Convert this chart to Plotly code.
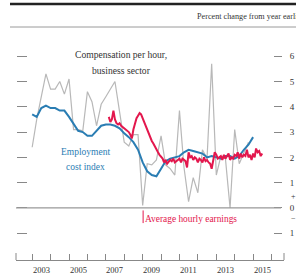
import pandas as pd
import plotly.graph_objects as go

# Compensation per hour, business sector (quarterly, from 2003 Q1)
comp_values = [2.4, 3.5, 4.4, 5.3, 4.7, 4.7, 5.0, 4.5, 5.1, 3.1, 3.1, 3.05,
               4.6, 4.2, 3.25, 4.1, 4.4, 4.7, 5.0, 3.8, 2.6, 2.45, 2.9, 2.9,
               0.1, 1.75, 1.7, 1.9, 2.85, 1.7, 1.55, 1.3, 3.85, 1.6, 0.25, 1.2,
               0.6, 2.3, 1.95, 5.7, 1.3, 2.05, 1.95, 0.0, 3.1, 1.75, 2.2, 2.6]

# Employment cost index (quarterly, from 2003 Q1)
eci_values = [3.7, 3.6, 3.95, 4.05, 3.95, 3.95, 3.85, 3.85, 3.6, 3.35, 3.05, 3.0,
              2.85, 2.85, 3.05, 3.25, 3.3, 3.3, 3.25, 3.15, 2.95, 2.8, 2.6, 2.3,
              1.8, 1.45, 1.3, 1.25, 1.55, 1.85, 1.95, 2.0, 2.05, 2.2, 2.3, 2.25,
              2.2, 2.15, 2.0, 2.05, 2.0, 1.95, 2.05, 2.05, 1.95, 2.05, 2.3, 2.5, 2.8]

# Average hourly earnings (monthly, from March 2007)
ahe_values = [3.6, 3.4, 3.5, 3.85, 3.5, 3.35, 3.3, 3.35, 3.25, 3.2, 3.15, 3.1,
              3.05, 3.0, 2.9, 2.75, 3.1, 3.35, 3.55, 3.65, 3.75, 3.7, 3.55, 3.35,
              3.2, 3.05, 2.9, 2.8, 2.65, 2.55, 2.45, 2.35, 2.2, 2.1, 2.0, 1.95,
              1.8, 1.9, 1.75, 1.85, 1.9, 1.85, 1.95, 1.8, 1.85, 1.9, 1.95, 1.8,
              1.95, 1.9, 1.85, 1.6, 2.2, 2.0, 2.05, 1.9, 2.0, 1.95, 1.8, 1.95,
              1.9, 1.8, 2.0, 1.85, 1.9, 1.8, 1.75, 1.55, 1.85, 2.2, 2.1, 1.95,
              2.0, 2.05, 1.9, 2.1, 1.95, 2.05, 2.15, 1.9, 2.0, 1.95, 2.1, 2.05,
              2.2, 1.95, 2.15, 2.0, 2.1, 2.05, 2.3, 2.0, 2.1, 1.9, 2.15, 2.0,
              2.35, 2.2, 2.25, 2.05, 2.15]

tick_years = list(range(2003, 2017))
label_years = [2003, 2005, 2007, 2009, 2011, 2013, 2015]
y_tick_vals = [-1, 0, 1, 2, 3, 4, 5, 6]
y_tick_text = ["1", "0", "1", "2", "3", "4", "5", "6"]

comp_dates = pd.date_range("2003-01-01", periods=len(comp_values), freq="QS")
eci_dates = pd.date_range("2003-01-01", periods=len(eci_values), freq="QS")
ahe_dates = pd.date_range("2007-03-01", periods=len(ahe_values), freq="MS")

SERIF = "Liberation Serif"
GRAY = "#b8b8b8"
BLUE = "#2a7db3"
RED = "#e3174d"

fig = go.Figure()
fig.add_trace(go.Scatter(x=comp_dates, y=comp_values, mode="lines",
                         line=dict(color=GRAY, width=1.2), hoverinfo="skip"))
fig.add_trace(go.Scatter(x=eci_dates, y=eci_values, mode="lines",
                         line=dict(color=BLUE, width=2), hoverinfo="skip"))
fig.add_trace(go.Scatter(x=ahe_dates, y=ahe_values, mode="lines", yaxis="y2",
                         line=dict(color=RED, width=2), hoverinfo="skip"))

YR = [-2.06, 6.84]
W, H = 296, 277
L, R, T, B = 16, 12, 35, 17
pw, ph = W - L - R, H - T - B

def px_x(p):
    return (p - L) / pw

def px_y(p):
    return (H - B - p) / ph

fig.update_layout(
    width=W, height=H,
    margin=dict(l=L, r=R, t=T, b=B, autoexpand=False),
    paper_bgcolor="white", plot_bgcolor="white",
    showlegend=False,
    font=dict(family=SERIF, color="#333333"),
    xaxis=dict(type="date", range=["2002-02-14", "2016-09-05"],
               tickvals=[f"{y}-01-01" for y in tick_years],
               ticktext=["" for _ in tick_years],
               ticks="inside", ticklen=6, tickcolor="#888888", tickwidth=1,
               showline=True, linecolor="#888888", linewidth=1,
               showgrid=False, zeroline=False, fixedrange=True,
               automargin=False),
    yaxis=dict(range=YR, tickvals=y_tick_vals, showticklabels=False,
               ticks="inside", ticklen=10, tickcolor="#888888", tickwidth=1,
               showline=False, showgrid=False, zeroline=False,
               anchor="free", position=0, automargin=False),
    yaxis2=dict(range=YR, overlaying="y", side="right", anchor="free",
                position=px_x(273), automargin=False,
                tickvals=y_tick_vals, ticktext=y_tick_text,
                ticks="outside", ticklen=8, tickcolor="#888888", tickwidth=1,
                ticklabelstandoff=6,
                tickfont=dict(family=SERIF, size=9, color="#333333"),
                showline=False, showgrid=False, zeroline=False),
)

shapes = [
    # zero line
    dict(type="line", xref="paper", yref="y", x0=0, x1=px_x(281), y0=0, y1=0,
         line=dict(color="#999999", width=1.2)),
    # header lines
    dict(type="line", xref="paper", yref="paper", x0=px_x(10), x1=px_x(300),
         y0=px_y(4), y1=px_y(4), line=dict(color="#222222", width=2.5)),
    dict(type="line", xref="paper", yref="paper", x0=px_x(10), x1=px_x(300),
         y0=px_y(27), y1=px_y(27), line=dict(color="#9a9a9a", width=1)),
    # axis end ticks
    dict(type="line", xref="paper", yref="paper", x0=0, x1=0,
         y0=0, y1=7 / ph, line=dict(color="#888888", width=1)),
    dict(type="line", xref="paper", yref="paper", x0=1, x1=1,
         y0=0, y1=7 / ph, line=dict(color="#888888", width=1)),
    # leader for average hourly earnings label
    dict(type="line", xref="x", yref="y", x0="2009-01-10", x1="2009-01-10",
         y0=-0.1, y1=-0.6, line=dict(color=RED, width=1)),
]
fig.update_layout(shapes=shapes)

ann = [
    dict(text="Percent change from year earlier", xref="paper", yref="paper",
         x=px_x(195), y=px_y(17), xanchor="left", yanchor="middle",
         showarrow=False, font=dict(family=SERIF, size=8.2, color="#333333")),
    dict(text="Compensation per hour,", xref="x", yref="y",
         x="2007-10-30", y=6.08, showarrow=False,
         font=dict(family=SERIF, size=9.6, color="#333333")),
    dict(text="business sector", xref="x", yref="y",
         x="2007-10-30", y=5.45, showarrow=False,
         font=dict(family=SERIF, size=9.6, color="#333333")),
    dict(text="Employment", xref="x", yref="y",
         x="2005-12-01", y=2.21, showarrow=False,
         font=dict(family=SERIF, size=9.5, color=BLUE)),
    dict(text="cost index", xref="x", yref="y",
         x="2005-12-01", y=1.62, showarrow=False,
         font=dict(family=SERIF, size=9.5, color=BLUE)),
    dict(text="Average hourly earnings", xref="x", yref="y",
         x="2011-08-15", y=-0.43, showarrow=False,
         font=dict(family=SERIF, size=9.4, color=RED)),
    dict(text="+", xref="paper", yref="y", x=px_x(289), y=0.45,
         xanchor="left", showarrow=False,
         font=dict(family=SERIF, size=8, color="#333333")),
    dict(text="\u2212", xref="paper", yref="y", x=px_x(289), y=-0.42,
         xanchor="left", showarrow=False,
         font=dict(family=SERIF, size=8, color="#333333")),
]
for y in label_years:
    ann.append(dict(text=str(y), xref="x", yref="paper",
                    x=f"{y}-07-01", y=px_y(270), yanchor="middle",
                    showarrow=False,
                    font=dict(family=SERIF, size=8.5, color="#333333")))
fig.update_layout(annotations=ann)

fig.write_html("out.html", config={"displayModeBar": False},
               post_script="document.body.style.margin='0';"
                           "document.body.style.overflow='hidden';")
